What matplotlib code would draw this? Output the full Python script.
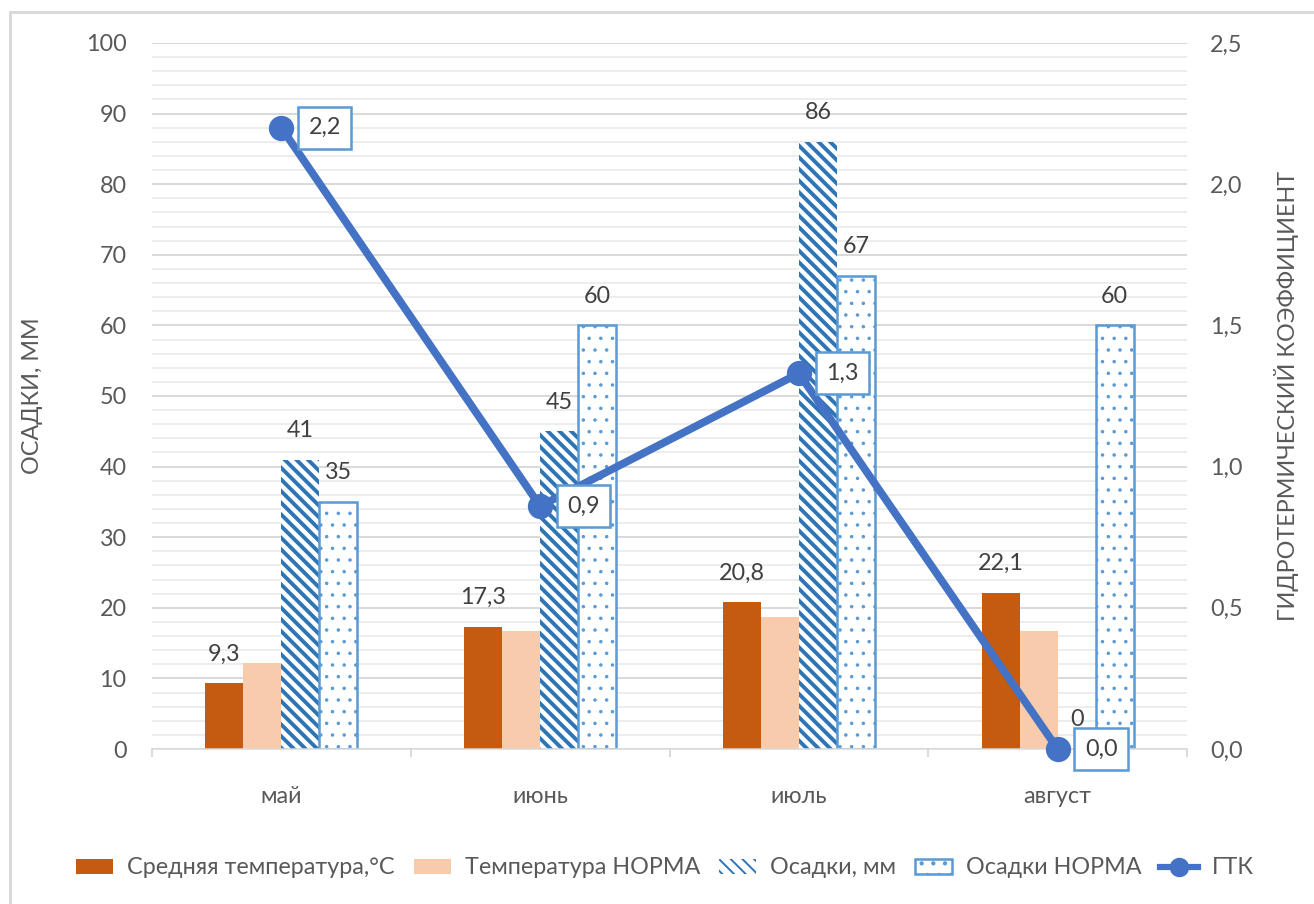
import matplotlib
matplotlib.use("Agg")
import matplotlib.pyplot as plt
from matplotlib.ticker import MultipleLocator, FuncFormatter
from matplotlib.patches import Rectangle
from matplotlib.lines import Line2D
import numpy as np

# data
months = ["май", "июнь", "июль", "август"]
temp = [9.3, 17.3, 20.8, 22.1]
temp_norm = [12.2, 16.7, 18.7, 16.7]
precip = [41, 45, 86, 0]
precip_norm = [35, 60, 67, 60]
gtk = [2.2, 0.86, 1.33, 0.0]

# colours
c_temp = "#C55A11"
c_temp_norm = "#F8CBAD"
c_hatch = "#2E75B6"
c_dots = "#5B9BD5"
c_line = "#4472C4"
c_text = "#595959"
c_grid = "#D9D9D9"

DPI = 140
plt.rcParams["font.family"] = ["Lato", "DejaVu Sans"]

fig = plt.figure(figsize=(1314 / DPI, 904 / DPI), dpi=DPI)
ax = fig.add_axes([152 / 1314, 1 - 749 / 904, (1187 - 152) / 1314, (749 - 43) / 904])
ax2 = ax.twinx()

x = np.arange(len(months))
w = 0.147

ax.bar(x - 1.5 * w, temp, w, color=c_temp, zorder=2)
ax.bar(x - 0.5 * w, temp_norm, w, color=c_temp_norm, zorder=2)
with plt.rc_context({"hatch.linewidth": 2.0}):
    ax.bar(x + 0.5 * w, precip, w, color="white", edgecolor=c_hatch, linewidth=0,
           hatch="\\\\\\\\", zorder=2)
    h_hatch = Rectangle((0, 0), 1, 1, fc="white", ec=c_hatch, lw=0, hatch="\\\\\\\\")
with plt.rc_context({"hatch.linewidth": 0.6}):
    ax.bar(x + 1.5 * w, precip_norm, w, color="white", edgecolor=c_dots, linewidth=1.3,
           hatch="..", zorder=2)
    h_dots = Rectangle((0, 0), 1, 1, fc="white", ec=c_dots, lw=1.3, hatch="..")

lab_kw = dict(textcoords="offset points", ha="center", va="center",
              fontsize=12, color="#404040")
for i in range(len(months)):
    ax.annotate(f"{temp[i]:.1f}".replace(".", ","), (x[i] - 1.5 * w, temp[i]),
                xytext=(0, 15), **lab_kw)
    ax.annotate(f"{precip[i]}", (x[i] + 0.5 * w, precip[i]), xytext=(0, 15), **lab_kw)
    ax.annotate(f"{precip_norm[i]}", (x[i] + 1.5 * w, precip_norm[i]),
                xytext=(0, 15), **lab_kw)

ax.set_xlim(-0.5, 3.5)
ax.set_ylim(0, 100)
ax.yaxis.set_major_locator(MultipleLocator(10))
ax.yaxis.set_minor_locator(MultipleLocator(2))
ax.grid(axis="y", which="major", color=c_grid, linewidth=1.0, zorder=0)
ax.grid(axis="y", which="minor", color="#EDEDED", linewidth=1.0, zorder=0)
ax.set_axisbelow(True)

ax.set_xticks(x)
ax.set_xticklabels(months)
ax.set_xticks(np.arange(-0.5, 4.0, 1.0), minor=True)
ax.tick_params(axis="x", which="major", length=0, pad=19, labelsize=12, labelcolor=c_text)
ax.tick_params(axis="x", which="minor", length=4, color=c_grid, width=1)
ax.tick_params(axis="y", which="both", length=0, pad=13, labelsize=12, labelcolor=c_text)

for s in ["top", "left", "right"]:
    ax.spines[s].set_visible(False)
    ax2.spines[s].set_visible(False)
ax.spines["bottom"].set_color(c_grid)
ax2.spines["bottom"].set_visible(False)

ax.set_ylabel("ОСАДКИ, ММ", fontsize=12, color=c_text, labelpad=22)

ax2.set_ylim(0, 2.5)
ax2.yaxis.set_major_locator(MultipleLocator(0.5))
ax2.yaxis.set_major_formatter(FuncFormatter(lambda v, p: f"{v:.1f}".replace(".", ",")))
ax2.tick_params(axis="y", length=0, pad=12, labelsize=12, labelcolor=c_text)
ax2.set_ylabel("ГИДРОТЕРМИЧЕСКИЙ КОЭФФИЦИЕНТ", fontsize=12, color=c_text, labelpad=16)

ax2.plot(x, gtk, color=c_line, linewidth=4, marker="o", markersize=12, zorder=5,
         clip_on=False)
for i in range(len(months)):
    ax2.annotate(f"{gtk[i]:.1f}".replace(".", ","), (x[i], gtk[i]),
                 xytext=(14, 0), textcoords="offset points", ha="left", va="center",
                 fontsize=12, color="#404040", zorder=6,
                 bbox=dict(boxstyle="square,pad=0.45", fc="white", ec=c_dots, lw=1.3))

handles = [
    Rectangle((0, 0), 1, 1, fc=c_temp),
    Rectangle((0, 0), 1, 1, fc=c_temp_norm),
    h_hatch,
    h_dots,
    Line2D([0], [0], color=c_line, lw=3.2, marker="o", markersize=9),
]
labels = ["Средняя температура,°C", "Температура НОРМА", "Осадки, мм",
          "Осадки НОРМА", "ГТК"]
fig.legend(handles, labels, loc="center", bbox_to_anchor=(0.506, 0.04), ncol=5,
           frameon=False, fontsize=12, labelcolor=c_text, handlelength=1.6,
           handleheight=0.6, handletextpad=0.6, columnspacing=0.8)

# light frame around the chart area
fig.patches.append(Rectangle((10 / 1314, -0.05), 1.1, 1 - 12 / 904 + 0.05,
                             transform=fig.transFigure, fill=False,
                             ec="#D9D9D9", lw=1.5))

fig.savefig("out.png", dpi=DPI)
